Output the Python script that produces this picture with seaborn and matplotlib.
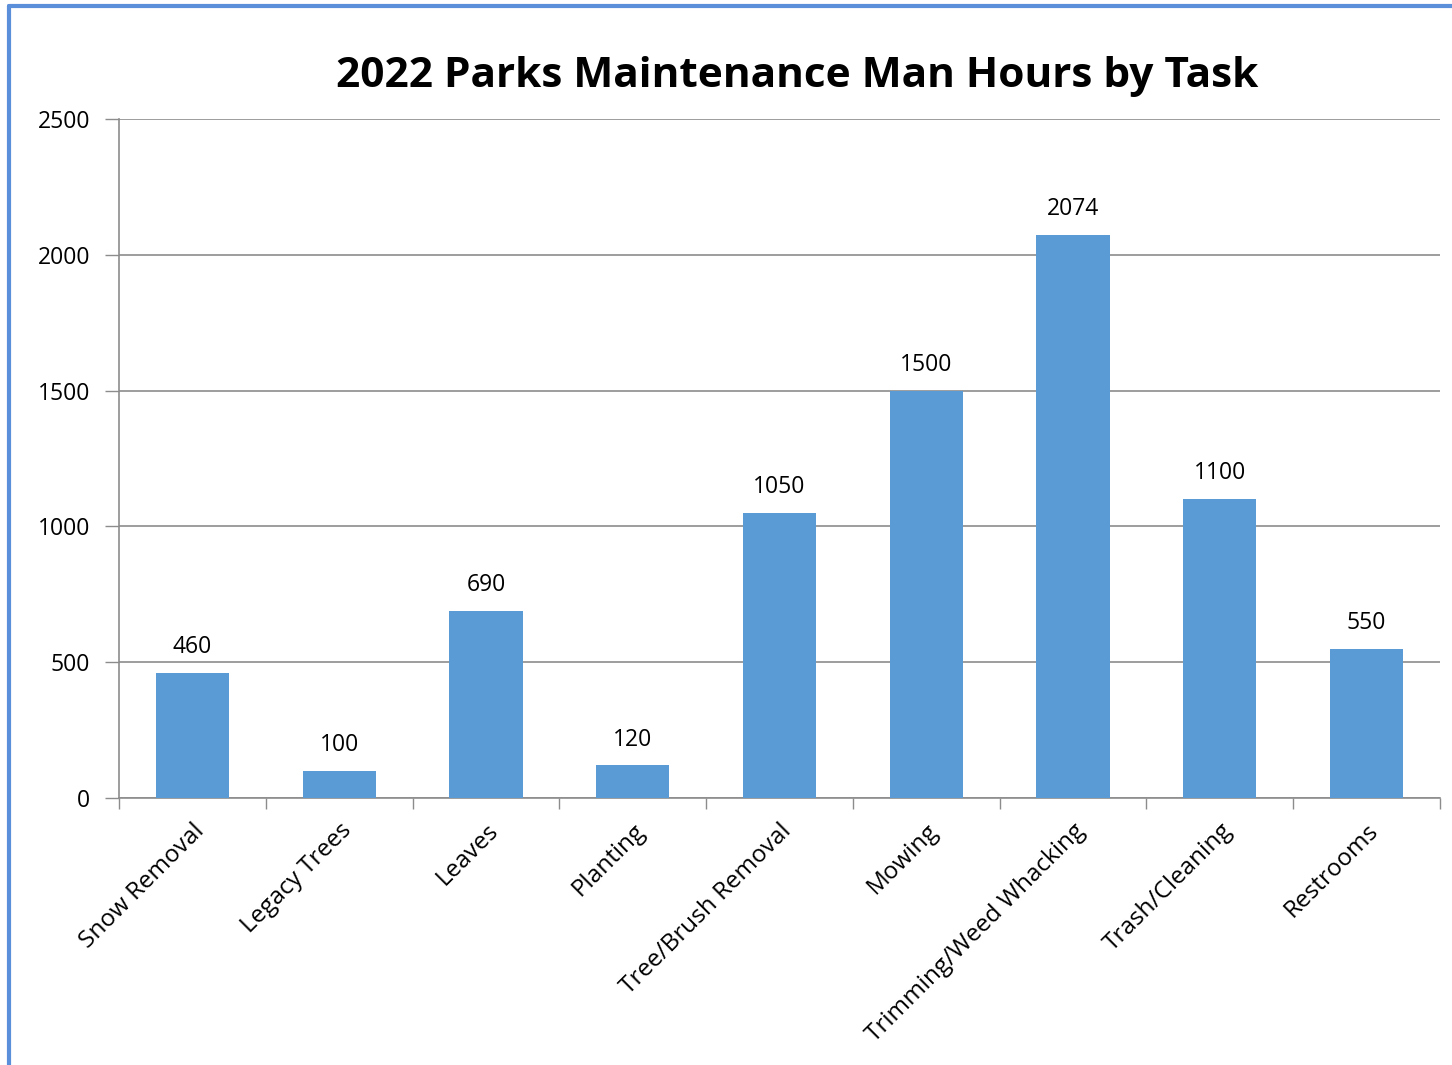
import numpy as np
import pandas as pd
import matplotlib
matplotlib.use("Agg")
import matplotlib.pyplot as plt
import seaborn as sns

# Data
tasks = ["Snow Removal", "Legacy Trees", "Leaves", "Planting", "Tree/Brush Removal",
         "Mowing", "Trimming/Weed Whacking", "Trash/Cleaning", "Restrooms"]
hours = [460, 100, 690, 120, 1050, 1500, 2074, 1100, 550]
y_ticks = [0, 500, 1000, 1500, 2000, 2500]
title = "2022 Parks Maintenance Man Hours by Task"

df = pd.DataFrame({"task": tasks, "hours": hours})

sns.set_style("white")
plt.rcParams["font.family"] = ["Open Sans", "DejaVu Sans"]
plt.rcParams["text.color"] = "black"
plt.rcParams["xtick.color"] = "black"
plt.rcParams["ytick.color"] = "black"

fig = plt.figure(figsize=(14.52, 10.65), dpi=100)
ax = fig.add_axes([0.082, 0.2507, 0.9097, 0.6376])

sns.barplot(data=df, x="task", y="hours", color="#5B9BD5", width=0.5,
            saturation=1, linewidth=0, ax=ax, zorder=3)

# value labels
for i, v in enumerate(hours):
    ax.annotate(str(v), (i, v), xytext=(0, 10), textcoords="offset points",
                ha="center", va="bottom", fontsize=16.5, color="black")

ax.set_ylim(0, 2500)
ax.set_xlim(-0.5, len(tasks) - 0.5)
ax.set_yticks(y_ticks)
ax.set_yticklabels([str(t) for t in y_ticks], fontsize=16.5)
ax.yaxis.grid(True, color="#8c8c8c", linewidth=1.2, zorder=0)
ax.set_axisbelow(True)
ax.tick_params(axis="y", length=10, width=1, color="#8c8c8c", labelcolor="black",
               pad=11, left=True)

# category labels without ticks, tick marks between categories
ax.set_xticks(range(len(tasks)))
ax.set_xticklabels(tasks, rotation=45, ha="right", rotation_mode="anchor", fontsize=17.5)
ax.tick_params(axis="x", which="major", length=0, pad=15, labelcolor="black")
ax.set_xticks(np.arange(-0.5, len(tasks)), minor=True)
ax.tick_params(axis="x", which="minor", length=8, width=1, color="#8c8c8c", bottom=True)

ax.set_xlabel("")
ax.set_ylabel("")
for side in ["top", "right"]:
    ax.spines[side].set_visible(False)
for side in ["left", "bottom"]:
    ax.spines[side].set_color("#8c8c8c")
    ax.spines[side].set_linewidth(1.2)

fig.text(0.549, 0.928, title, ha="center", va="center", fontsize=30.5,
         fontweight="bold", color="black")

# blue frame on top and left like the screenshot
fig.add_artist(plt.Line2D([0.0065, 1.0], [0.9945, 0.9945], color="#5B8FD9", linewidth=3,
                          transform=fig.transFigure))
fig.add_artist(plt.Line2D([0.0065, 0.0065], [0.0, 0.9945], color="#5B8FD9", linewidth=3,
                          transform=fig.transFigure))

plt.savefig("out.png", dpi=100)
plt.close()
